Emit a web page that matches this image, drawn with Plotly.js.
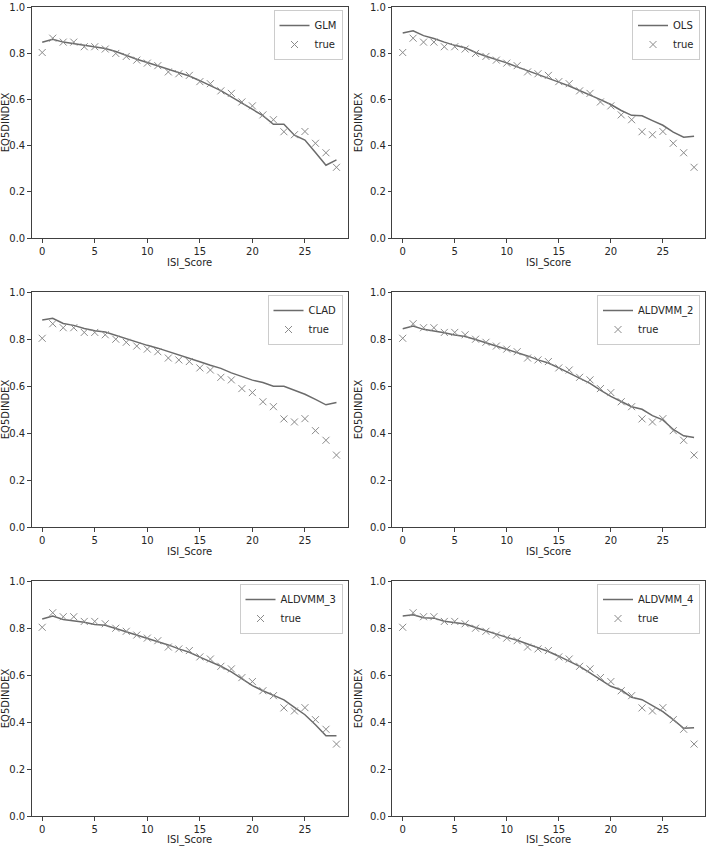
<!DOCTYPE html>
<html>
<head>
<meta charset="utf-8">
<script src="https://cdn.plot.ly/plotly-3.0.1.min.js"></script>
<style>
  html, body { margin: 0; padding: 0; background: #fff; }
  #myViz { width: 708px; height: 846px; }
</style>
</head>
<body>
<div id="myViz"></div>
<script>
var isiScore = [0,1,2,3,4,5,6,7,8,9,10,11,12,13,14,15,16,17,18,19,20,21,22,23,24,25,26,27,28];

var trueValues = [0.803,0.865,0.848,0.848,0.828,0.828,0.818,0.799,0.786,0.770,0.757,0.746,0.719,0.711,0.704,
                  0.677,0.668,0.637,0.626,0.589,0.572,0.533,0.512,0.460,0.447,0.461,0.410,0.369,0.306];

var glm = [0.847,0.860,0.848,0.841,0.833,0.824,0.820,0.807,0.790,0.774,0.760,0.746,0.730,0.718,0.701,
           0.681,0.660,0.638,0.611,0.583,0.555,0.530,0.492,0.492,0.445,0.424,0.370,0.315,0.338];

var ols = [0.887,0.897,0.876,0.864,0.848,0.834,0.824,0.803,0.787,0.773,0.758,0.741,0.725,0.710,0.692,
           0.675,0.658,0.639,0.621,0.599,0.578,0.552,0.531,0.529,0.508,0.488,0.458,0.436,0.441];

var clad = [0.881,0.888,0.866,0.858,0.845,0.835,0.830,0.815,0.800,0.786,0.773,0.761,0.747,0.734,0.720,
            0.703,0.688,0.675,0.656,0.639,0.625,0.615,0.599,0.599,0.581,0.565,0.543,0.520,0.530];

var aldvmm2 = [0.844,0.855,0.841,0.835,0.827,0.817,0.811,0.798,0.784,0.770,0.758,0.745,0.728,0.711,0.698,
               0.677,0.655,0.635,0.611,0.582,0.556,0.534,0.512,0.501,0.474,0.456,0.415,0.388,0.381];

var aldvmm3 = [0.838,0.851,0.836,0.831,0.824,0.815,0.812,0.798,0.784,0.771,0.758,0.745,0.728,0.711,0.697,
               0.676,0.657,0.637,0.613,0.585,0.555,0.533,0.512,0.494,0.462,0.431,0.388,0.341,0.341];

var aldvmm4 = [0.851,0.856,0.844,0.842,0.829,0.824,0.817,0.802,0.788,0.772,0.760,0.748,0.733,0.716,0.700,
               0.680,0.659,0.637,0.609,0.580,0.552,0.536,0.505,0.495,0.469,0.444,0.410,0.373,0.376];

var modelNames = ['GLM','OLS','CLAD','ALDVMM_2','ALDVMM_3','ALDVMM_4'];
var modelValues = [glm, ols, clad, aldvmm2, aldvmm3, aldvmm4];

// panel boxes in pixels (left, right, top, bottom)
var W = 708, H = 846;
var cols = [[31.7, 347.5], [392.3, 705]];
var rows = [[7, 238], [292, 527], [581, 816]];

var font = {family: 'DejaVu Sans, sans-serif', size: 10, color: '#262626'};
var data = [];
var layout = {
    width: W, height: H,
    margin: {l: 0, r: 0, t: 0, b: 0},
    paper_bgcolor: '#fff',
    plot_bgcolor: '#fff',
    font: font,
    showlegend: true
};

for (var i = 0; i < modelNames.length; i++) {
    var n = i + 1;
    var sfx = n === 1 ? '' : String(n);
    var c = cols[i % 2], r = rows[Math.floor(i / 2)];
    var legName = 'legend' + sfx;

    data.push({
        x: isiScore, y: modelValues[i],
        type: 'scatter', mode: 'lines', name: modelNames[i],
        xaxis: 'x' + sfx, yaxis: 'y' + sfx, legend: legName,
        line: {color: '#6b6b6b', width: 1.5}
    });
    data.push({
        x: isiScore, y: trueValues,
        type: 'scatter', mode: 'markers', name: 'true',
        xaxis: 'x' + sfx, yaxis: 'y' + sfx, legend: legName,
        marker: {symbol: 'x-thin', size: 7, color: '#8a8a8a', line: {width: 1, color: '#8a8a8a'}}
    });

    layout['xaxis' + sfx] = {
        domain: [c[0] / W, c[1] / W], anchor: 'y' + sfx,
        range: [-1, 29.05], tickvals: [0, 5, 10, 15, 20, 25],
        showgrid: false, zeroline: false,
        showline: true, mirror: true, linecolor: '#404040', linewidth: 1,
        ticks: 'outside', ticklen: 3.5, tickcolor: '#404040',
        tickfont: font, automargin: false, ticklabeloverflow: 'allow',
        title: {text: 'ISI_Score', font: font, standoff: 3}
    };
    layout['yaxis' + sfx] = {
        domain: [1 - r[1] / H, 1 - r[0] / H], anchor: 'x' + sfx,
        range: [0, 1], dtick: 0.2, tickformat: '.1f',
        showgrid: false, zeroline: false,
        showline: true, mirror: true, linecolor: '#404040', linewidth: 1,
        ticks: 'outside', ticklen: 3.5, tickcolor: '#404040',
        tickfont: font, automargin: false, ticklabeloverflow: 'allow',
        title: {text: 'EQ5DINDEX', font: font, standoff: 5}
    };
    layout[legName] = {
        x: (c[1] - 5) / W, y: 1 - (r[0] + 3) / H,
        xanchor: 'right', yanchor: 'top',
        xref: 'paper', yref: 'paper',
        bgcolor: 'rgba(255,255,255,0.8)', bordercolor: '#cccccc', borderwidth: 1,
        font: font, tracegroupgap: 0, itemwidth: 30
    };
}

Plotly.newPlot('myViz', data, layout, {displayModeBar: false});
</script>
</body>
</html>
